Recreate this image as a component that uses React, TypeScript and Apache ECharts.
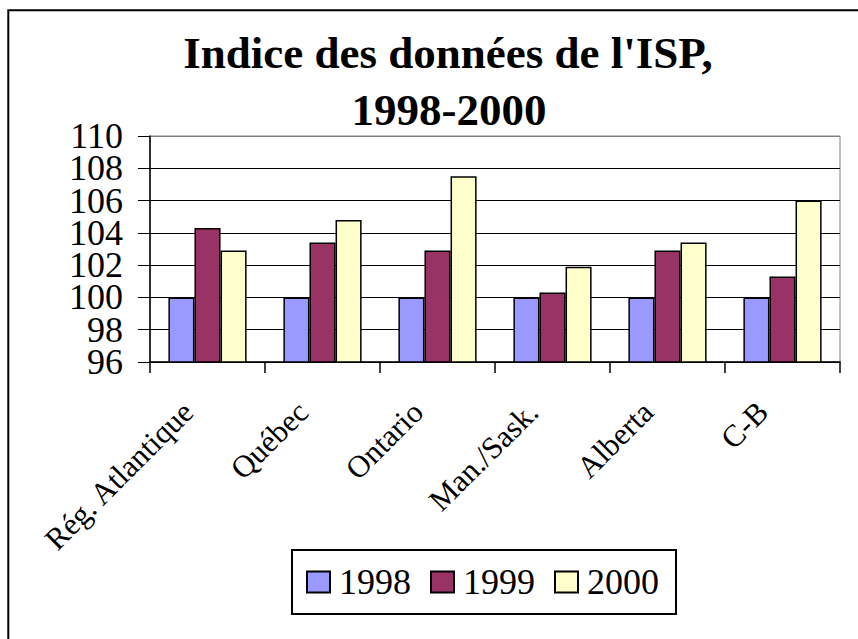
import React, { useEffect, useRef } from "react";
import * as echarts from "echarts";

const categories = ["Rég. Atlantique", "Québec", "Ontario", "Man./Sask.", "Alberta", "C-B"];
const seriesNames = ["1998", "1999", "2000"];
const values1998 = [100, 100, 100, 100, 100, 100];
const values1999 = [104.3, 103.4, 102.9, 100.3, 102.9, 101.3];
const values2000 = [102.9, 104.8, 107.5, 101.9, 103.4, 106.0];
const titleLines = ["Indice des données de l'ISP,", "1998-2000"];
const yMin = 96;
const yMax = 110;
const yStep = 2;

const FONT = "'Liberation Serif', 'Times New Roman', serif";
const colors = ["#9999FF", "#993366", "#FFFFCC"];

export default function App() {
  const ref = useRef<HTMLDivElement>(null);
  useEffect(() => {
    if (!ref.current) return;
    const chart = echarts.init(ref.current, null, { renderer: "svg" });
    const data = [values1998, values1999, values2000];
    const labelStyle = (parity: number) => ({
      formatter: (v: number) => ((Math.round((v - yMin) / yStep) % 2) === parity ? String(v) : ""),
      fontFamily: FONT,
      fontSize: 36,
      lineHeight: 28,
      color: "#000",
      margin: 27,
      showMinLabel: true,
      showMaxLabel: true,
      hideOverlap: false,
    });
    chart.setOption({
      animation: false,
      backgroundColor: "#ffffff",
      textStyle: { fontFamily: FONT },
      graphic: [
        {
          type: "rect",
          shape: { x: 8.3, y: 10.3, width: 1000, height: 1000 },
          style: { fill: "none", stroke: "#000", lineWidth: 2 },
          silent: true,
        },
        {
          type: "text",
          x: 448,
          y: 53,
          style: {
            text: titleLines[0],
            fontFamily: FONT,
            fontSize: 45,
            fontWeight: "bold",
            fill: "#000",
            align: "center",
            verticalAlign: "middle",
          },
        },
        {
          type: "text",
          x: 449,
          y: 110,
          style: {
            text: titleLines[1],
            fontFamily: FONT,
            fontSize: 45,
            fontWeight: "bold",
            fill: "#000",
            align: "center",
            verticalAlign: "middle",
          },
        },
      ],
      legend: {
        data: seriesNames,
        left: 292,
        top: 550,
        orient: "horizontal",
        itemWidth: 23,
        itemHeight: 21,
        itemGap: 19,
        padding: [12, 17, 12, 14],
        borderColor: "#000",
        borderWidth: 2,
        icon: "rect",
        textStyle: {
          fontFamily: FONT,
          fontSize: 36,
          lineHeight: 40,
          color: "#000",
          padding: [0, 0, 0, 4],
        },
      },
      grid: {
        left: 150,
        top: 136,
        width: 690,
        height: 226,
        show: true,
        borderColor: "#808080",
        borderWidth: 1,
        containLabel: false,
      },
      xAxis: {
        type: "category",
        data: categories,
        axisLine: { show: true, lineStyle: { color: "#000", width: 1.5 } },
        axisTick: { show: true, length: 11, lineStyle: { color: "#000", width: 1.5 } },
        axisLabel: {
          rotate: 45,
          interval: 0,
          fontFamily: FONT,
          fontSize: 31,
          color: "#000",
          margin: 25,
          padding: [0, 28, 0, 0],
        },
        splitLine: { show: false },
      },
      yAxis: [
        {
          type: "value",
          position: "left",
          min: yMin,
          max: yMax,
          interval: yStep,
          axisLine: { show: true, lineStyle: { color: "#000", width: 1.5 } },
          axisTick: { show: true, length: 12, lineStyle: { color: "#000", width: 1 } },
          axisLabel: labelStyle(0),
          splitLine: {
            show: true,
            lineStyle: {
              color: ["#000", "#000", "#000", "#000", "#000", "#000", "#000", "#808080"],
              width: 1,
            },
          },
        },
        {
          type: "value",
          position: "left",
          offset: 0,
          min: yMin,
          max: yMax,
          interval: yStep,
          axisLine: { show: false },
          axisTick: { show: false },
          axisLabel: labelStyle(1),
          splitLine: { show: false },
        },
      ],
      series: seriesNames.map((name, i) => ({
        name,
        type: "bar",
        yAxisIndex: 0,
        data: data[i],
        barGap: "0%",
        barCategoryGap: "32%",
        itemStyle: { color: colors[i], borderColor: "#000", borderWidth: 1.5 },
      })),
    });
    return () => chart.dispose();
  }, []);
  return (
    <div
      ref={ref}
      style={{ position: "absolute", left: 0, top: 0, width: 858, height: 639 }}
    />
  );
}
